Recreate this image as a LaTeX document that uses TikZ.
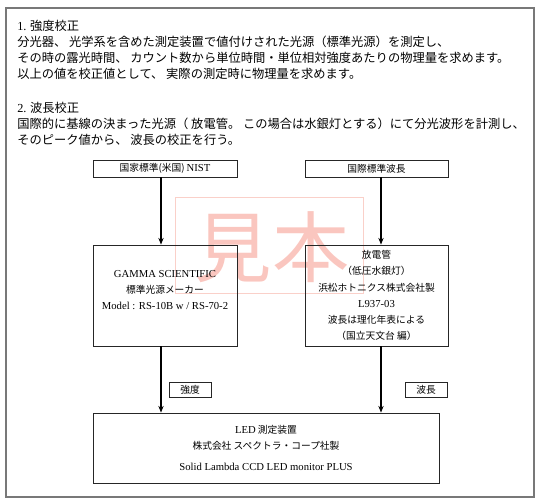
\documentclass[tikz,border=0pt]{standalone}
\usepackage{fontspec}
\setmainfont{Liberation Serif}
\newfontfamily\jp{Noto Sans CJK JP}
\newcommand\lat{\rmfamily\fontsize{8}{12.2}\selectfont}
\usetikzlibrary{arrows.meta}

\definecolor{framegray}{RGB}{120,120,120}
\definecolor{wmpink}{RGB}{246,160,148}

\begin{document}
\begin{tikzpicture}[x=0.75pt,y=-0.75pt,
    head/.style={anchor=north west,align=left,inner sep=0pt,
      font=\jp\fontsize{9.2}{12}\selectfont},
    box/.style={draw=black!85,line width=0.7pt,align=center,inner sep=0pt,
      font=\jp\fontsize{7.3}{12.2}\selectfont},
    tagbox/.style={box,minimum width=31.5pt,minimum height=11.25pt},
    arr/.style={line width=0.8pt,-{Stealth[length=5pt,width=4pt]}}]

    \useasboundingbox (0,0) rectangle (539,502);
    \draw[framegray,line width=1.1pt] (6,8) rectangle (534,497);

    % explanation text
    \node[head] (sec1) at (17,20) {{\rmfamily 1.} 強度校正\\
      分光器、 光学系を含めた測定装置で値付けされた光源（標準光源）を測定し、\\
      その時の露光時間、 カウント数から単位時間・単位相対強度あたりの物理量を求めます。\\
      以上の値を校正値として、 実際の測定時に物理量を求めます。};
    \node[head] (sec2) at (17,102) {{\rmfamily 2.} 波長校正\\
      国際的に基線の決まった光源（ 放電管。 この場合は水銀灯とする）にて分光波形を計測し、\\
      そのピーク値から、 波長の校正を行う。};

    % watermark
    \draw[wmpink!50,line width=0.5pt] (175,197) rectangle (363,293);
    \node[text=wmpink,opacity=0.6,font=\jp\fontsize{58}{58}\selectfont] (mihon) at (272,247) {見本};

    % standards
    \node[box,minimum width=108pt,minimum height=12.75pt] (nist) at (165,168.5) {国家標準(米国) {\lat NIST}};
    \node[box,minimum width=107.25pt,minimum height=12.75pt] (intl) at (376.5,168.5) {国際標準波長};

    % light sources
    \node[box,minimum width=108pt,minimum height=75.75pt] (gamma) at (165,295.5)
      {{\lat GAMMA SCIENTIFIC}\\標準光源メーカー\\{\lat Model : RS-10B w / RS-70-2}\\[-4pt]};
    \node[box,minimum width=107.25pt,minimum height=75.75pt] (lamp) at (376.5,295.5)
      {放電管\\（低圧水銀灯）\\浜松ホトニクス株式会社製\\{\lat L937-03}\\波長は理化年表による\\（国立天文台 編）};

    % measuring system
    \node[box,minimum width=259.5pt,minimum height=52.5pt] (led) at (266,448)
      {{\lat LED} 測定装置\\株式会社 スペクトラ・コープ社製\\[4pt]{\lat Solid Lambda CCD LED monitor PLUS}};

    \node[tagbox] (tagint) at (190,389.5) {強度};
    \node[tagbox] (tagwl) at (426,389.5) {波長};

    \coordinate (lx) at (161,0);
    \coordinate (rx) at (381,0);
    \draw[arr] (nist.south -| lx) -- (gamma.north -| lx);
    \draw[arr] (gamma.south -| lx) -- (led.north -| lx);
    \draw[arr] (intl.south -| rx) -- (lamp.north -| rx);
    \draw[arr] (lamp.south -| rx) -- (led.north -| rx);

\end{tikzpicture}
\end{document}
